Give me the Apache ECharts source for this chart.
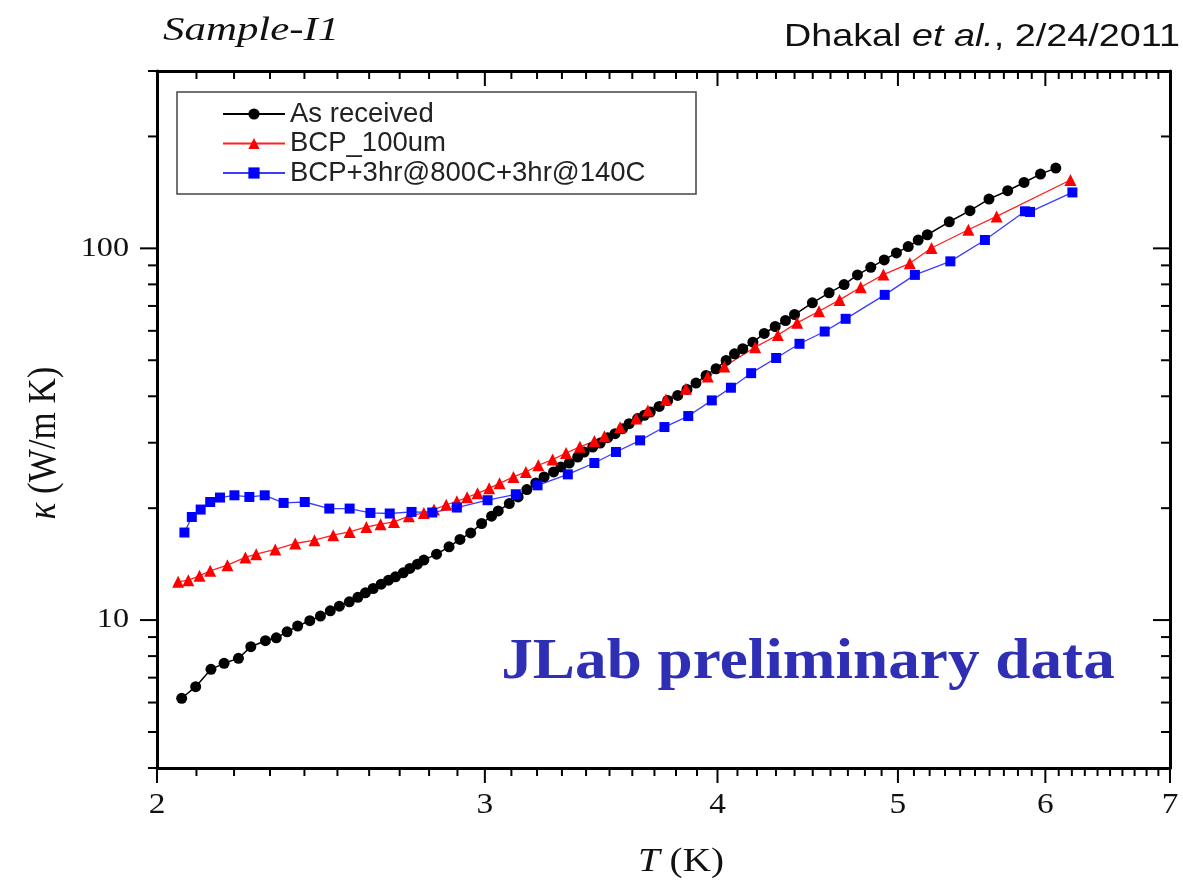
<!DOCTYPE html>
<html>
<head>
<meta charset="utf-8">
<script src="https://cdn.jsdelivr.net/npm/echarts@6/dist/echarts.min.js"></script>
<style>
html,body{margin:0;padding:0;background:#fff;}
#chart{width:1183px;height:883px;}
</style>
</head>
<body>
<div id="chart"></div>
<script>
// ---------------- DATA ----------------
const seriesNames = ['As received', 'BCP_100um', 'BCP+3hr@800C+3hr@140C'];

const asReceivedT = [2.062,2.098,2.138,2.173,2.212,2.246,2.287,2.318,2.349,2.380,2.416,2.448,2.478,2.506,2.537,2.564,2.588,2.613,2.639,2.663,2.686,2.712,2.734,2.760,2.782,2.826,2.870,2.909,2.948,2.988,3.025,3.050,3.092,3.126,3.160,3.195,3.228,3.266,3.296,3.330,3.365,3.392,3.428,3.460,3.492,3.524,3.557,3.586,3.624,3.654,3.681,3.722,3.761,3.808,3.852,3.895,3.944,3.993,4.043,4.085,4.127,4.179,4.238,4.296,4.351,4.400,4.498,4.592,4.678,4.756,4.835,4.916,4.991,5.064,5.127,5.185,5.328,5.466,5.596,5.727,5.844,5.964,6.078];
const asReceivedK = [6.16,6.62,7.37,7.65,7.89,8.48,8.80,8.96,9.30,9.64,9.96,10.25,10.59,10.90,11.20,11.51,11.84,12.16,12.49,12.80,13.07,13.40,13.77,14.14,14.50,15.04,15.74,16.48,17.16,18.19,19.03,19.66,20.58,21.44,22.44,23.38,24.27,25.03,25.82,26.46,27.46,28.32,29.21,29.94,30.96,31.73,32.73,33.76,34.83,35.54,36.28,37.57,38.99,40.22,41.74,43.40,45.51,47.44,49.94,52.05,53.69,55.92,59.02,61.63,63.96,66.38,71.35,75.90,79.90,84.84,88.91,93.07,97.19,101.1,105.3,108.8,117.9,126.3,135.7,142.9,150.4,158.4,164.4];

const bcpT = [2.053,2.079,2.108,2.136,2.182,2.231,2.261,2.315,2.373,2.430,2.487,2.538,2.591,2.637,2.681,2.731,2.782,2.817,2.860,2.898,2.935,2.973,3.016,3.055,3.108,3.156,3.205,3.262,3.317,3.374,3.435,3.478,3.546,3.617,3.670,3.753,3.847,3.952,4.034,4.191,4.310,4.414,4.535,4.652,4.775,4.911,5.074,5.212,5.455,5.649,6.189];
const bcpK = [12.67,12.80,13.15,13.57,14.05,14.74,15.04,15.49,16.07,16.40,16.92,17.26,17.80,18.11,18.37,19.03,19.42,19.83,20.43,20.87,21.40,21.93,22.62,23.33,24.27,25.03,26.09,27.02,28.15,29.24,30.31,31.21,33.00,34.83,36.65,39.24,41.92,45.23,48.11,54.22,58.47,63.04,67.72,72.66,78.60,85.00,91.14,100.2,112.2,121.9,152.7];

const annealT = [2.069,2.088,2.111,2.136,2.162,2.201,2.242,2.285,2.339,2.401,2.475,2.538,2.604,2.667,2.740,2.811,2.898,3.010,3.117,3.202,3.324,3.435,3.528,3.635,3.746,3.858,3.972,4.067,4.170,4.301,4.427,4.567,4.687,4.919,5.106,5.335,5.568,5.851,5.887,6.204];
const annealK = [17.20,18.94,19.83,20.78,21.36,21.66,21.44,21.66,20.66,20.78,19.95,19.95,19.42,19.35,19.54,19.47,20.08,21.01,21.80,23.04,24.66,26.46,28.32,30.44,33.06,35.39,38.99,42.18,46.16,50.71,55.37,59.75,64.63,74.97,84.84,92.27,105.3,125.8,125.3,141.4];

const xMajorTicks = [2,3,4,5,6,7];
const xMinorTicks = [2.1,2.2,2.3,2.4,2.5,2.6,2.7,2.8,2.9,3.1,3.2,3.3,3.4,3.5,3.6,3.7,3.8,3.9,4.1,4.2,4.3,4.4,4.5,4.6,4.7,4.8,4.9,5.1,5.2,5.3,5.4,5.5,5.6,5.7,5.8,5.9,6.1,6.2,6.3,6.4,6.5,6.6,6.7,6.8,6.9];
const yMajorTicks = [10,100];
const yMinorTicks = [4,5,6,7,8,9,20,30,40,50,60,70,80,90,200,300];
const X_MIN = 2, X_MAX = 7, Y_MIN = 4, Y_MAX = 300;

// ---------------- CHART ----------------
const chart = echarts.init(document.getElementById('chart'), null, {renderer: 'canvas'});
const pairs = (xs, ys) => xs.map((x, i) => [x, ys[i]]);
const SERIF = 'Liberation Serif';
const SANS = 'Liberation Sans';
const MAJ = 15, MIN_LEN = 8, TICK_W = 2;

function xTickSeries(vals, isMajor) {
  return {
    type: 'custom', silent: true, clip: false, z: 5,
    xAxisIndex: 0, yAxisIndex: 0,
    data: vals.map(v => [v, Y_MIN]),
    renderItem: function (params, api) {
      const v = api.value(0);
      const pb = api.coord([v, Y_MIN]);
      const pt = api.coord([v, Y_MAX]);
      const len = isMajor ? MAJ : MIN_LEN;
      const children = [
        {type: 'line', shape: {x1: pb[0], y1: pb[1], x2: pb[0], y2: pb[1] + len}, style: {stroke: '#000', lineWidth: TICK_W}},
        {type: 'line', shape: {x1: pt[0], y1: pt[1], x2: pt[0], y2: pt[1] + len}, style: {stroke: '#000', lineWidth: TICK_W}}
      ];
      if (isMajor) {
        children.push({type: 'text', x: pb[0], y: pb[1] + 37, scaleX: 1.15,
          style: {text: String(v), fontFamily: SERIF, fontSize: 29, fill: '#111', align: 'center', verticalAlign: 'middle'}});
      }
      return {type: 'group', children: children};
    }
  };
}
function yTickSeries(vals, isMajor) {
  return {
    type: 'custom', silent: true, clip: false, z: 5,
    xAxisIndex: 0, yAxisIndex: 0,
    data: vals.map(v => [X_MIN, v]),
    renderItem: function (params, api) {
      const v = api.value(1);
      const pl = api.coord([X_MIN, v]);
      const pr = api.coord([X_MAX, v]);
      const len = isMajor ? MAJ + 2 : MIN_LEN + 1;
      const children = [
        {type: 'line', shape: {x1: pl[0] - len, y1: pl[1], x2: pl[0], y2: pl[1]}, style: {stroke: '#000', lineWidth: TICK_W}},
        {type: 'line', shape: {x1: pr[0] - len, y1: pr[1], x2: pr[0], y2: pr[1]}, style: {stroke: '#000', lineWidth: TICK_W}}
      ];
      if (isMajor) {
        children.push({type: 'text', x: pl[0] - 28, y: pl[1], scaleX: 1.15,
          style: {text: String(v), fontFamily: SERIF, fontSize: 28, fill: '#111', align: 'right', verticalAlign: 'middle'}});
      }
      return {type: 'group', children: children};
    }
  };
}

const axisLineStyle = {show: true, lineStyle: {color: '#000', width: 3}};
const hidden = {show: false};

const option = {
  backgroundColor: '#fff',
  animation: false,
  grid: {left: 157, right: 13, top: 71, bottom: 115, containLabel: false},
  xAxis: [
    {type: 'log', logBase: 10, min: X_MIN, max: X_MAX, position: 'bottom', axisLine: axisLineStyle,
     axisTick: hidden, axisLabel: hidden, splitLine: hidden, minorTick: hidden},
    {type: 'log', logBase: 10, min: X_MIN, max: X_MAX, position: 'top', axisLine: axisLineStyle,
     axisTick: hidden, axisLabel: hidden, splitLine: hidden, minorTick: hidden}
  ],
  yAxis: [
    {type: 'log', logBase: 10, min: Y_MIN, max: Y_MAX, position: 'left', axisLine: axisLineStyle,
     axisTick: hidden, axisLabel: hidden, splitLine: hidden, minorTick: hidden},
    {type: 'log', logBase: 10, min: Y_MIN, max: Y_MAX, position: 'right', axisLine: axisLineStyle,
     axisTick: hidden, axisLabel: hidden, splitLine: hidden, minorTick: hidden}
  ],
  legend: {
    data: seriesNames,
    orient: 'vertical',
    left: 222, top: 100,
    padding: 0,
    itemWidth: 62, itemHeight: 14, itemGap: 1.5,
    textStyle: {fontFamily: SANS, fontSize: 27.5, color: '#222', lineHeight: 24},
    selectedMode: false
  },
  graphic: [
    {type: 'rect', shape: {x: 177, y: 92, width: 519, height: 102}, z: 1,
     style: {fill: '#fff', stroke: '#444', lineWidth: 1.5}},
    {type: 'text', x: 163, y: 31, scaleX: 1.3,
     style: {text: 'Sample-I1', fontFamily: SERIF, fontStyle: 'italic', fontSize: 33, fill: '#111', align: 'left', verticalAlign: 'middle'}},
    {type: 'text', x: 1180, y: 37, scaleX: 1.18,
     style: {text: '{n|Dhakal }{i|et al.}{n|, 2/24/2011}', align: 'right', verticalAlign: 'middle',
       rich: {n: {fontFamily: SANS, fontSize: 32, fill: '#111'}, i: {fontFamily: SANS, fontStyle: 'italic', fontSize: 32, fill: '#111'}}}},
    {type: 'text', x: 681, y: 862, scaleX: 1.15,
     style: {text: '{i|T}{n| (K)}', align: 'center', verticalAlign: 'middle',
       rich: {i: {fontFamily: SERIF, fontStyle: 'italic', fontSize: 34, fill: '#111'}, n: {fontFamily: SERIF, fontSize: 34, fill: '#111'}}}},
    {type: 'text', x: 44, y: 443, rotation: Math.PI / 2, scaleY: 1.15,
     style: {text: '{i|κ}{n| (W/m K)}', align: 'center', verticalAlign: 'middle',
       rich: {i: {fontFamily: SERIF, fontStyle: 'italic', fontSize: 35, fill: '#111'}, n: {fontFamily: SERIF, fontSize: 35, fill: '#111'}}}},
    {type: 'text', x: 808, y: 663, scaleX: 1.09,
     style: {text: 'JLab preliminary data', fontFamily: SERIF, fontWeight: 'bold', fontSize: 58, fill: '#2F2FB6', align: 'center', verticalAlign: 'middle'}}
  ],
  series: [
    xTickSeries(xMajorTicks, true),
    xTickSeries(xMinorTicks, false),
    yTickSeries(yMajorTicks, true),
    yTickSeries(yMinorTicks, false),
    {name: seriesNames[0], type: 'line', data: pairs(asReceivedT, asReceivedK), z: 3,
     symbol: 'circle', symbolSize: 11, itemStyle: {color: '#000'}, lineStyle: {color: '#000', width: 1.5}},
    {name: seriesNames[1], type: 'line', data: pairs(bcpT, bcpK), z: 3,
     symbol: 'triangle', symbolSize: 12, itemStyle: {color: '#ff0000'}, lineStyle: {color: '#ff2020', width: 1.3}},
    {name: seriesNames[2], type: 'line', data: pairs(annealT, annealK), z: 3,
     symbol: 'rect', symbolSize: 10, itemStyle: {color: '#0000ff'}, lineStyle: {color: '#3c3cff', width: 1.3}}
  ]
};
chart.setOption(option);
</script>
</body>
</html>
